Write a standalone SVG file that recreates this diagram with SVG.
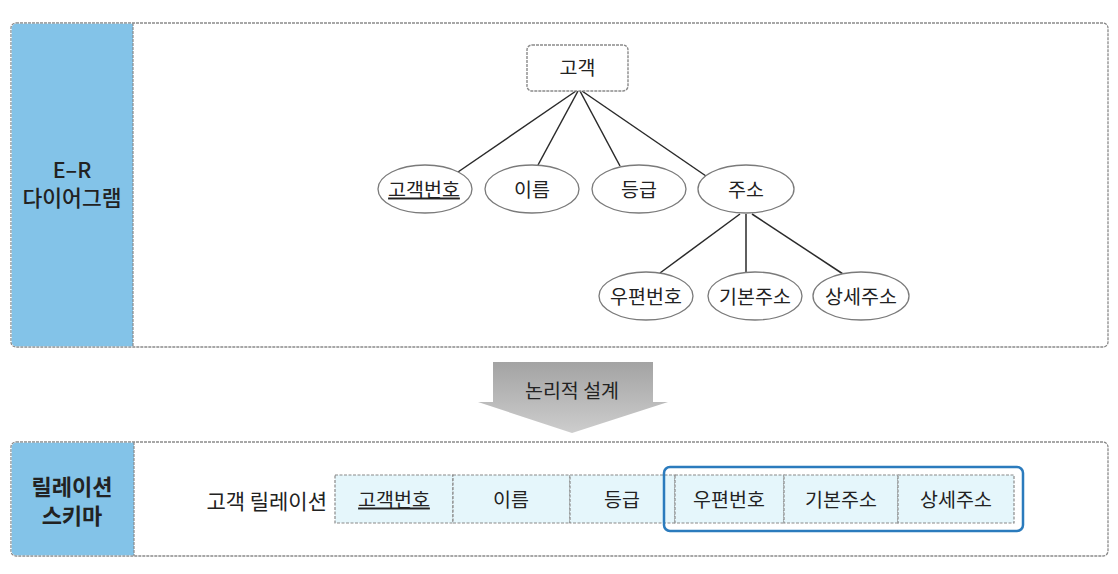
<svg xmlns="http://www.w3.org/2000/svg" width="1118" height="574" viewBox="0 0 1118 574">
<style>
text{font-family:"Noto Sans CJK KR","Noto Sans",sans-serif;fill:#222;}
.t{font-size:19.5px;text-anchor:middle;}
.band{fill:#83c3e8;}
.panel{fill:#fff;stroke:#8a8a8a;stroke-width:1.3;stroke-dasharray:3 1;}
.bandline{stroke:#8a8a8a;stroke-width:1.2;stroke-dasharray:3 1;}
.lbl{font-size:21.5px;text-anchor:middle;font-weight:500;}
.attr{fill:#fff;stroke:#7a7a7a;stroke-width:1.3;}
.ent{fill:#fff;stroke:#8a8a8a;stroke-width:1.4;stroke-dasharray:3 1;}
.edge{stroke:#2a2a2a;stroke-width:1.5;fill:none;}
.cell{fill:#e5f6fb;stroke:#8a8a8a;stroke-width:1.2;stroke-dasharray:3 1.5;}
.u{text-decoration:underline;}
</style>
<defs>
<linearGradient id="ag" x1="0" y1="0" x2="0" y2="1">
<stop offset="0" stop-color="#a3a3a3"/>
<stop offset="1" stop-color="#cdcdcd"/>
</linearGradient>
</defs>

<g id="panel-er">
<rect class="panel" x="11" y="23" width="1097" height="324" rx="5"/>
<path class="band" d="M133,23.7 H16 A4.3,4.3 0 0 0 11.7,28 V342 A4.3,4.3 0 0 0 16,346.3 H133 Z"/>
<line class="bandline" x1="133" y1="23" x2="133" y2="347"/>
<text class="lbl" x="72" y="178">E–R</text>
<text class="lbl" x="72" y="206">다이어그램</text>
</g>

<g id="connectors">
<line class="edge" x1="576" y1="91" x2="458" y2="172"/>
<line class="edge" x1="578" y1="91" x2="538" y2="165"/>
<line class="edge" x1="580" y1="91" x2="620" y2="166"/>
<line class="edge" x1="582" y1="91" x2="706" y2="176"/>
<line class="edge" x1="740" y1="214" x2="660" y2="273"/>
<line class="edge" x1="746" y1="214" x2="746" y2="272"/>
<line class="edge" x1="752" y1="214" x2="843" y2="274"/>
</g>

<g id="node-customer">
<rect class="ent" x="527" y="45" width="101" height="46" rx="5"/>
<text class="t" x="577.5" y="75">고객</text>
</g>
<g id="node-custno">
<ellipse class="attr" cx="425" cy="189" rx="47" ry="24"/>
<text class="t u" x="424" y="196.5">고객번호</text>
</g>
<g id="node-name">
<ellipse class="attr" cx="532" cy="189" rx="47" ry="24"/>
<text class="t" x="532" y="196.5">이름</text>
</g>
<g id="node-grade">
<ellipse class="attr" cx="639" cy="189" rx="47" ry="24"/>
<text class="t" x="639" y="196.5">등급</text>
</g>
<g id="node-addr">
<ellipse class="attr" cx="746" cy="189" rx="48" ry="24"/>
<text class="t" x="746" y="196.5">주소</text>
</g>
<g id="node-zip">
<ellipse class="attr" cx="646" cy="296" rx="47" ry="24"/>
<text class="t" x="646" y="303.5">우편번호</text>
</g>
<g id="node-baseaddr">
<ellipse class="attr" cx="755" cy="296" rx="47" ry="24"/>
<text class="t" x="755" y="303.5">기본주소</text>
</g>
<g id="node-detailaddr">
<ellipse class="attr" cx="861" cy="296" rx="48" ry="24"/>
<text class="t" x="861" y="303.5">상세주소</text>
</g>

<g id="arrow-logical">
<polygon points="493,362 653,362 653,402 668,402 572,433 478,402 493,402" fill="url(#ag)"/>
<text class="t" x="572" y="397.5">논리적 설계</text>
</g>

<g id="panel-schema">
<rect class="panel" x="11" y="442" width="1097" height="114" rx="5"/>
<path class="band" d="M134,442.7 H16 A4.3,4.3 0 0 0 11.7,447 V551 A4.3,4.3 0 0 0 16,555.3 H134 Z"/>
<line class="bandline" x1="134" y1="442" x2="134" y2="556"/>
<text class="lbl" x="72" y="495" style="font-weight:bold;font-size:22px">릴레이션</text>
<text class="lbl" x="72" y="524" style="font-weight:bold;font-size:22px">스키마</text>
</g>

<g id="relation">
<text x="327" y="509" style="font-size:21px;text-anchor:end">고객 릴레이션</text>
<rect class="cell" x="335" y="475" width="118" height="48"/>
<rect class="cell" x="453" y="475" width="117" height="48"/>
<rect class="cell" x="570" y="475" width="105" height="48"/>
<rect class="cell" x="675" y="475" width="109" height="48"/>
<rect class="cell" x="784" y="475" width="114" height="48"/>
<rect class="cell" x="898" y="475" width="116" height="48"/>
<text class="t u" x="394" y="506.5">고객번호</text>
<text class="t" x="511" y="506.5">이름</text>
<text class="t" x="622" y="506.5">등급</text>
<text class="t" x="729" y="506.5">우편번호</text>
<text class="t" x="841" y="506.5">기본주소</text>
<text class="t" x="956" y="506.5">상세주소</text>
</g>

<g id="addr-group">
<rect x="664" y="467" width="359" height="64" rx="6" fill="none" stroke="#2b7bbd" stroke-width="2.5"/>
</g>
</svg>
